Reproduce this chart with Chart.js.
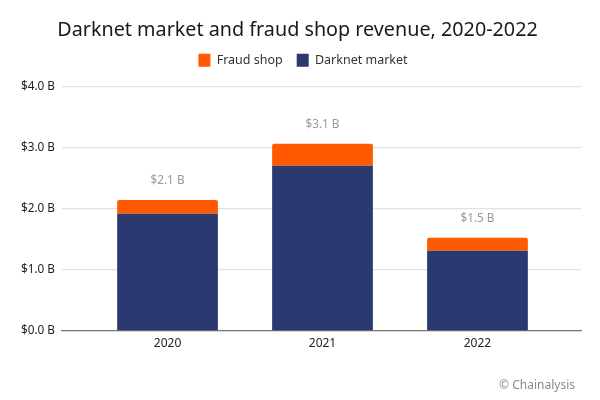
<!DOCTYPE html>
<html><head><meta charset="utf-8">
<style>html,body{margin:0;padding:0;background:#fff}#w{width:600px;height:400px}</style>
<script src="https://cdn.jsdelivr.net/npm/chart.js@4"></script></head>
<body><div id="w"><canvas id="c" width="600" height="400"></canvas></div>
<script>
const years = [2020, 2021, 2022];
const darknetMarket = [1.92, 2.705, 1.315];
const fraudShop = [0.225, 0.36, 0.21];
const totalLabels = ['$2.1 B', '$3.1 B', '$1.5 B'];
const titleText = 'Darknet market and fraud shop revenue, 2020-2022';
const creditText = '© Chainalysis';
const FONT = '"Noto Sans"';

const overlay = {
  id: 'overlay',
  afterLayout(chart) {
    chart.titleBlock.left -= 2.5; chart.titleBlock.right -= 2.5;
    chart.legend.left += 3; chart.legend.right += 3;
    chart.legend.top -= 10; chart.legend.bottom -= 10;
  },
  afterDatasetsDraw(chart) {
    const {ctx, scales: {x, y}} = chart;
    ctx.save();
    ctx.font = '11.75px ' + FONT;
    ctx.fillStyle = '#9a9a9a';
    ctx.textAlign = 'center';
    ctx.textBaseline = 'middle';
    years.forEach((yr, i) => {
      ctx.fillText(totalLabels[i], x.getPixelForValue(yr),
        y.getPixelForValue(darknetMarket[i] + fraudShop[i]) - 19.5);
    });
    ctx.textAlign = 'right';
    ctx.font = '12px ' + FONT;
    ctx.fillStyle = '#8a8a8a';
    ctx.fillText(creditText, 575, 386);
    ctx.restore();
  }
};

new Chart(document.getElementById('c'), {
  type: 'bar',
  data: {
    labels: years,
    datasets: [
      {label: 'Darknet market', data: darknetMarket, backgroundColor: '#2a3a70', categoryPercentage: 0.65, barPercentage: 1},
      {label: 'Fraud shop', data: fraudShop, backgroundColor: '#ff5a00', categoryPercentage: 0.65, barPercentage: 1,
       borderRadius: {topLeft: 2, topRight: 2}, borderSkipped: false}
    ]
  },
  options: {
    responsive: false, animation: false,
    layout: {padding: {left: 0, right: 0, top: 19, bottom: 0}},
    plugins: {
      title: {display: true, text: titleText, color: '#1a1a1a', font: {family: FONT, size: 19.75, weight: 'normal'}, padding: {top: 0, bottom: 7}},
      legend: {
        display: true, position: 'top',
        labels: {boxWidth: 12, boxHeight: 13, padding: 14, color: '#333', font: {family: FONT, size: 12.5},
          sort: (a, b) => b.datasetIndex - a.datasetIndex}
      },
      tooltip: {enabled: false}
    },
    scales: {
      x: {
        type: 'linear', stacked: true, offset: false, min: 2019.319, max: 2022.668,
        afterBuildTicks(s) { s.ticks = years.map(v => ({value: v})); },
        afterFit(s) { s.height = 69; },
        grid: {display: false, offset: false, drawTicks: false},
        border: {color: '#777', width: 1.2},
        ticks: {autoSkip: false, maxRotation: 0, color: '#222', padding: 5, font: {family: FONT, size: 12},
          callback: v => String(v)}
      },
      y: {
        stacked: true, min: 0, max: 4,
        afterFit(s) { s.width = 62; },
        grid: {color: '#e2e2e2', lineWidth: 1.3, drawTicks: false},
        border: {display: false},
        ticks: {stepSize: 1, padding: 7, color: '#222', font: {family: FONT, size: 11.75},
          callback: v => '$' + v.toFixed(1) + ' B'}
      },
      yRight: {
        position: 'right', display: true, min: 0, max: 4,
        afterFit(s) { s.width = 19; },
        grid: {display: false}, border: {display: false}, ticks: {display: false}
      }
    }
  },
  plugins: [overlay]
});
</script></body></html>
